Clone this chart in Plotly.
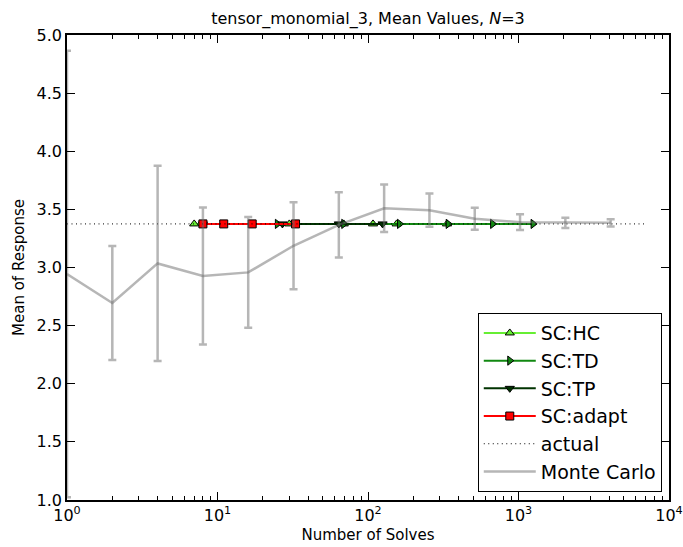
import plotly.graph_objects as go

# Monte Carlo
mc_x = [1, 2, 4, 8, 16, 32, 64, 128, 256, 512, 1024, 2048, 4096]
mc_mean = [2.944, 2.695, 3.035, 2.927, 2.958, 3.187, 3.367, 3.51, 3.493, 3.42, 3.39, 3.384, 3.384]
mc_err = [1.92, 0.49, 0.84, 0.59, 0.476, 0.375, 0.28, 0.205, 0.143, 0.095, 0.067, 0.045, 0.032]

# Stochastic collocation series
hc_x = [7, 30, 69, 108, 155, 335]
hc_y = [3.375] * len(hc_x)
td_x = [25, 69, 162, 341, 673, 1250]
td_y = [3.375] * len(td_x)
tp_x = [8, 27, 64, 125]
tp_y = [3.375] * len(tp_x)
ad_x = [8, 11, 17, 33]
ad_y = [3.375] * len(ad_x)

actual_x = [1, 7080]
actual_y = [3.375, 3.375]

FONT = "DejaVu Sans"

fig = go.Figure()

fig.add_trace(go.Scatter(
    x=hc_x, y=hc_y, name="SC:HC", mode="lines+markers", legendgroup="a",
    line=dict(color="#66ee33", width=2),
    marker=dict(symbol="triangle-up", size=8, color="#66ee33", line=dict(color="black", width=1))))
fig.add_trace(go.Scatter(
    x=td_x, y=td_y, name="SC:TD", mode="lines+markers", legendgroup="b",
    line=dict(color="#118811", width=2),
    marker=dict(symbol="triangle-right", size=8, color="#118811", line=dict(color="black", width=1))))
fig.add_trace(go.Scatter(
    x=tp_x, y=tp_y, name="SC:TP", mode="lines+markers", legendgroup="c",
    line=dict(color="#003300", width=2),
    marker=dict(symbol="triangle-down", size=8, color="#003300", line=dict(color="black", width=1))))
fig.add_trace(go.Scatter(
    x=ad_x, y=ad_y, name="SC:adapt", mode="lines+markers", legendgroup="d",
    line=dict(color="#ff0000", width=2),
    marker=dict(symbol="square", size=8, color="#ff0000", line=dict(color="black", width=1))))
fig.add_trace(go.Scatter(
    x=actual_x, y=actual_y, name="actual", mode="lines", legendgroup="e",
    line=dict(color="black", width=1, dash="1px,3.5px")))
fig.add_trace(go.Scatter(
    x=mc_x, y=mc_mean, name="Monte Carlo", mode="lines", legendgroup="f",
    line=dict(color="rgba(110,110,110,0.5)", width=2.5),
    error_y=dict(type="data", array=mc_err, visible=True,
                 color="rgba(110,110,110,0.5)", thickness=2.5, width=4)))

minor_vals = [m * 10 ** d for d in range(0, 4) for m in range(2, 10)]

fig.update_layout(
    width=683, height=547,
    margin=dict(l=67, r=14, t=35, b=47),
    paper_bgcolor="white", plot_bgcolor="white",
    font=dict(family=FONT, size=15, color="black"),
    title=dict(text="tensor_monomial_3, Mean Values, <i>N</i>=3",
               x=(67 + 669) / 2 / 683, xanchor="center", y=1 - 18 / 547, yanchor="middle",
               font=dict(family=FONT, size=16)),
    showlegend=True,
    legend=dict(x=0.988, y=0.017, xanchor="right", yanchor="bottom",
                bordercolor="black", borderwidth=1, bgcolor="white",
                font=dict(family=FONT, size=19), tracegroupgap=0, itemwidth=52),
    xaxis=dict(type="log", range=[0, 4], automargin=False,
               tickvals=[1, 10, 100, 1000, 10000],
               ticktext=["10<sup>0</sup>", "10<sup>1</sup>", "10<sup>2</sup>", "10<sup>3</sup>", "10<sup>4</sup>"],
               ticks="inside", ticklen=8, tickwidth=1, tickcolor="black",
               showline=True, linecolor="black", linewidth=1.5, mirror="allticks",
               showgrid=False, zeroline=False,
               minor=dict(tickvals=minor_vals, ticks="inside", ticklen=4, tickcolor="black", showgrid=False),
               tickfont=dict(family=FONT, size=16),
               title=dict(text="Number of Solves", font=dict(family=FONT, size=15), standoff=6)),
    yaxis=dict(range=[1.0, 5.0], automargin=False,
               tickvals=[1.0, 1.5, 2.0, 2.5, 3.0, 3.5, 4.0, 4.5, 5.0],
               ticktext=["1.0", "1.5", "2.0", "2.5", "3.0", "3.5", "4.0", "4.5", "5.0"],
               ticks="inside", ticklen=8, tickwidth=1, tickcolor="black",
               showline=True, linecolor="black", linewidth=1.5, mirror="allticks",
               showgrid=False, zeroline=False,
               tickfont=dict(family=FONT, size=16),
               title=dict(text="Mean of Response", font=dict(family=FONT, size=15), standoff=8)),
)

fig.write_html("out.html")
